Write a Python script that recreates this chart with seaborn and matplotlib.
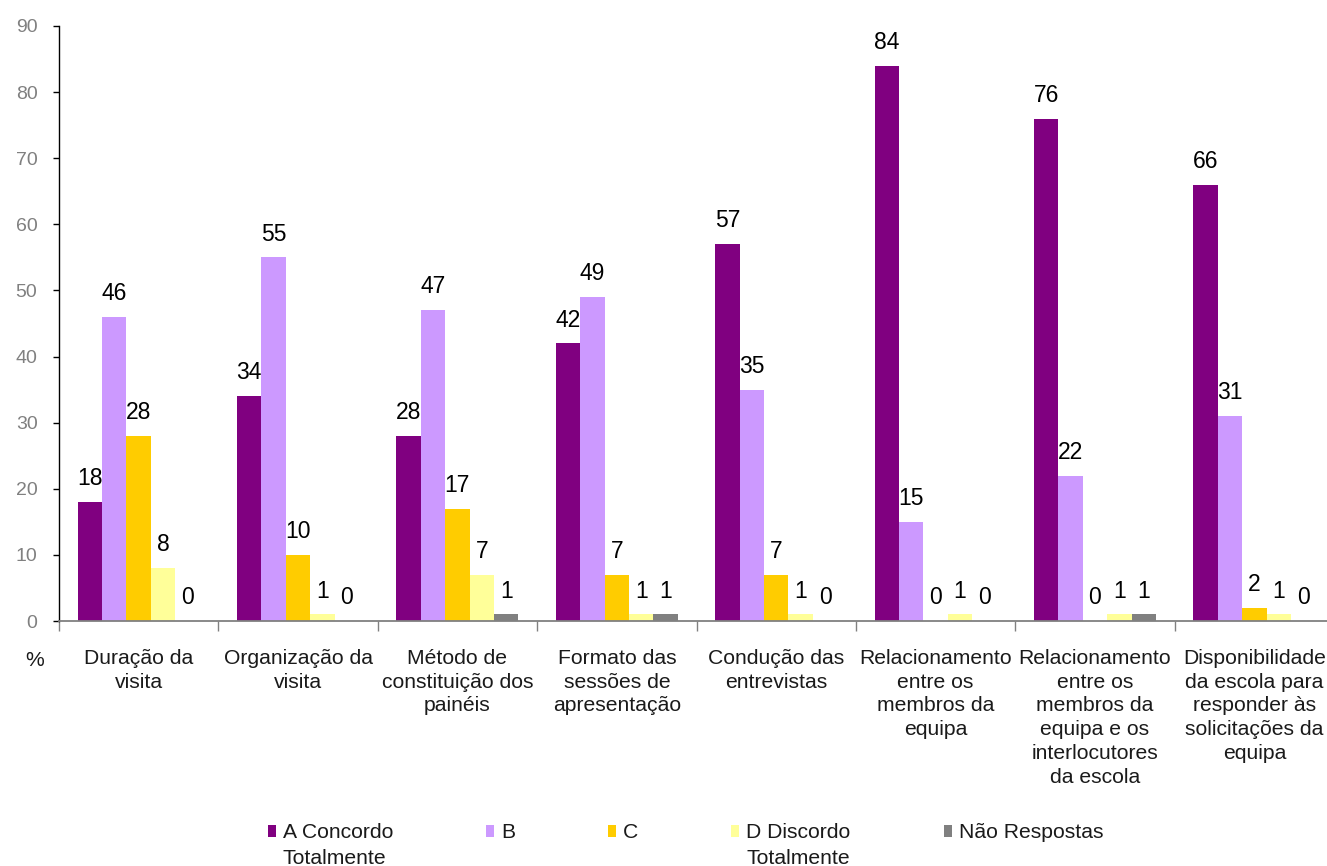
import matplotlib
matplotlib.use("Agg")
import matplotlib.pyplot as plt
import seaborn as sns
import pandas as pd
from matplotlib.patches import Patch
from matplotlib.ticker import FixedLocator

categories = [
    "Duração da\nvisita",
    "Organização da\nvisita",
    "Método de\nconstituição dos\npainéis",
    "Formato das\nsessões de\napresentação",
    "Condução das\nentrevistas",
    "Relacionamento\nentre os\nmembros da\nequipa",
    "Relacionamento\nentre os\nmembros da\nequipa e os\ninterlocutores\nda escola",
    "Disponibilidade\nda escola para\nresponder às\nsolicitações da\nequipa",
]
series = ["A Concordo Totalmente", "B", "C", "D Discordo Totalmente", "Não Respostas"]
legend_first = ["A Concordo", "B", "C", "D Discordo", "Não Respostas"]
legend_second = ["Totalmente", "", "", "Totalmente", ""]

a_concordo = [18, 34, 28, 42, 57, 84, 76, 66]
b_values = [46, 55, 47, 49, 35, 15, 22, 31]
c_values = [28, 10, 17, 7, 7, 0, 0, 2]
d_discordo = [8, 1, 7, 1, 1, 1, 1, 1]
nao_respostas = [0, 0, 1, 1, 0, 0, 1, 0]

colors = ["#800080", "#CC99FF", "#FFCC00", "#FFFF99", "#808080"]

rows = []
for s, vals in zip(series, [a_concordo, b_values, c_values, d_discordo, nao_respostas]):
    for cat, v in zip(categories, vals):
        rows.append({"categoria": cat, "serie": s, "valor": v})
df = pd.DataFrame(rows)

sns.set_theme(style="white")
plt.rcParams["font.family"] = ["Liberation Sans", "DejaVu Sans"]

W, H = 1327, 866
fig = plt.figure(figsize=(W / 100, H / 100), dpi=100)
ax_left, ax_right, ax_top, ax_bottom = 59, 1334, 26, 621
ax = fig.add_axes([ax_left / W, 1 - ax_bottom / H, (ax_right - ax_left) / W, (ax_bottom - ax_top) / H])

sns.barplot(data=df, x="categoria", y="valor", hue="serie", hue_order=series,
            palette=colors, width=0.766, gap=0, saturation=1, ax=ax,
            legend=False, errorbar=None, linewidth=0, edgecolor="none")

for cont in ax.containers:
    ax.bar_label(cont, fmt="%d", padding=8.5, fontsize=16.5, color="black")

ax.set_ylim(0, 90)
ax.set_xlim(-0.5, len(categories) - 0.5)
ax.set_yticks(range(0, 91, 10))
ax.set_xlabel("")
ax.set_ylabel("")

for sp in ["top", "right"]:
    ax.spines[sp].set_visible(False)
ax.spines["left"].set_color("black")
ax.spines["left"].set_linewidth(1.0)
ax.spines["bottom"].set_color("#808080")
ax.spines["bottom"].set_linewidth(1.3)

ax.tick_params(axis="y", which="major", direction="out", length=4.5, width=1,
               color="black", labelcolor="#808080", labelsize=14, pad=11, left=True)
ax.tick_params(axis="x", which="major", length=0, labelsize=15.2, labelcolor="#1a1a1a", pad=20)
ax.xaxis.set_minor_locator(FixedLocator([i - 0.5 for i in range(len(categories) + 1)]))
ax.tick_params(axis="x", which="minor", direction="out", length=7, width=1,
               color="#808080", bottom=True)
for lab in ax.get_xticklabels():
    lab.set_linespacing(1.32)

fig.text(35 / W, 1 - 660 / H, "%", fontsize=15.2, ha="center", va="center", color="#1a1a1a")

handles = [Patch(facecolor=c, edgecolor="none") for c in colors]
leg = fig.legend(handles, legend_first, loc="center left",
                 bbox_to_anchor=(268 / W, 1 - 833 / H), ncol=5, frameon=False,
                 fontsize=15.2, handlelength=0.38, handleheight=0.5, handletextpad=0.33,
                 columnspacing=4.4, borderaxespad=0, borderpad=0)
for t in leg.get_texts():
    t.set_color("#1a1a1a")

# Second line of the wrapped legend entries, aligned under the first line
fig.canvas.draw()
renderer = fig.canvas.get_renderer()
for t, extra in zip(leg.get_texts(), legend_second):
    if not extra:
        continue
    bb = t.get_window_extent(renderer)
    fig.text(bb.x0 / W, (bb.y0 - 25) / H, extra, fontsize=15.2,
             ha="left", va="bottom", color="#1a1a1a")

fig.savefig("out.png", dpi=100)
